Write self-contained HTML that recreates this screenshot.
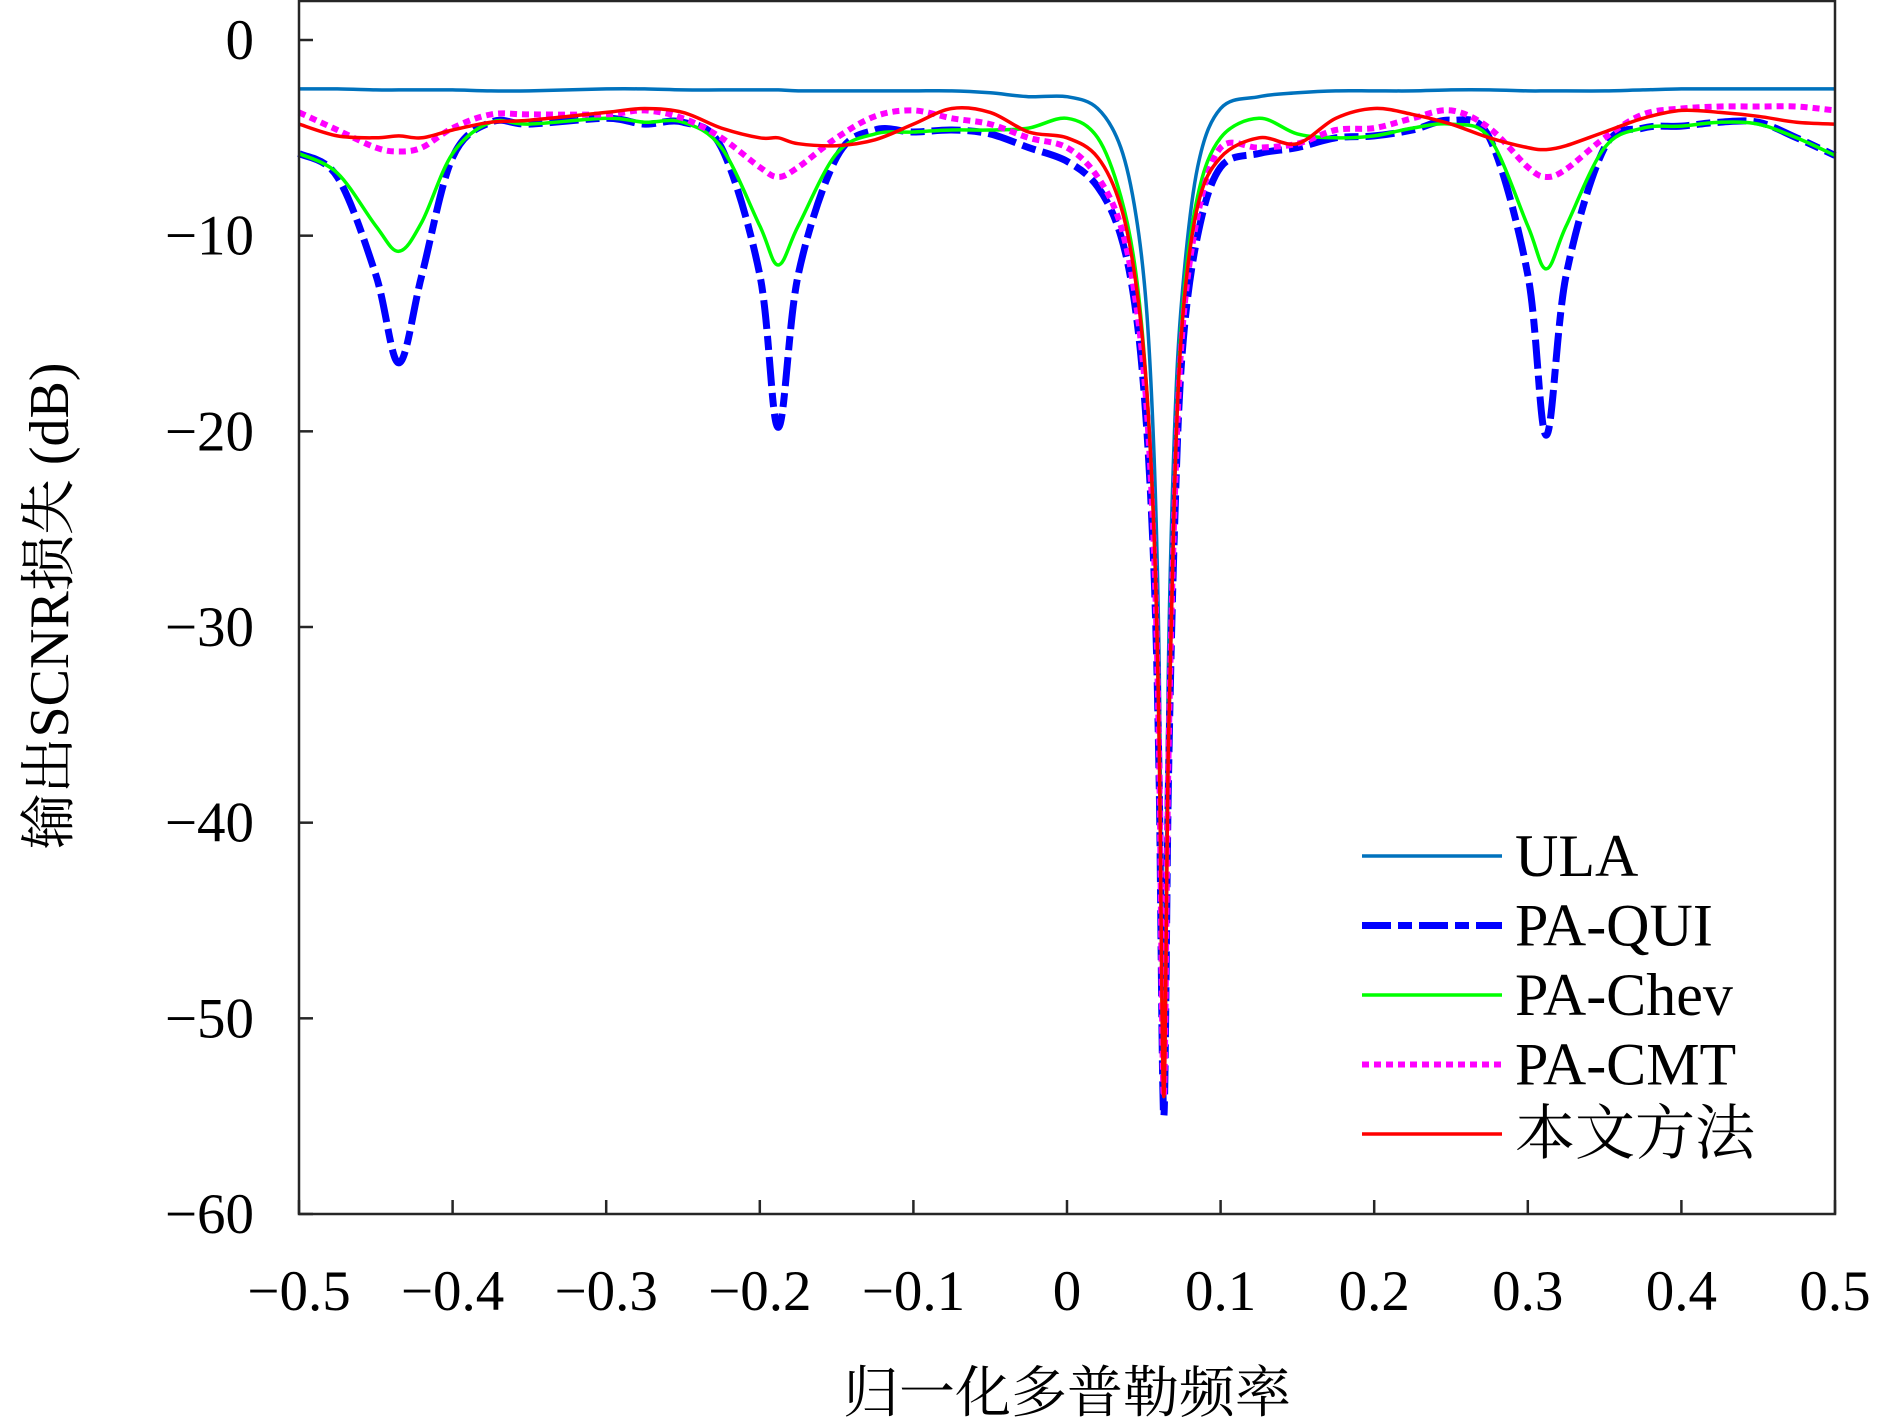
<!DOCTYPE html>
<html><head><meta charset="utf-8"><style>
html,body{margin:0;padding:0;background:#fff;}
svg{display:block;}
text{font-family:"Liberation Serif","Noto Serif CJK SC",serif;fill:#000;}
</style></head><body>
<svg id="chart" width="1890" height="1424" viewBox="0 0 1890 1424" xmlns="http://www.w3.org/2000/svg">
<g id="series"></g>
<rect x="299" y="1" width="1536" height="1213" fill="none" stroke="#262626" stroke-width="2.5"/>
<g id="ticks"></g>
<text x="1067" y="1412" font-size="56" text-anchor="middle">归一化多普勒频率</text>
<text transform="translate(68,606) rotate(-90)" font-size="56" text-anchor="middle">输出SCNR损失 (dB)</text>
<g id="legend"></g>
</svg>
<script>
const freq=[-0.5,-0.475,-0.45,-0.435,-0.42,-0.4,-0.375,-0.35,-0.3,-0.275,-0.25,-0.225,-0.2,-0.188,-0.175,-0.15,-0.125,-0.1,-0.075,-0.05,-0.025,0,0.02,0.035,0.045,0.052,0.057,0.06,0.063,0.066,0.07,0.075,0.085,0.1,0.125,0.15,0.175,0.2,0.225,0.25,0.275,0.3,0.312,0.325,0.35,0.375,0.4,0.425,0.45,0.475,0.5];
const ula=[-2.5,-2.5,-2.55,-2.55,-2.55,-2.55,-2.6,-2.6,-2.5,-2.5,-2.55,-2.55,-2.55,-2.55,-2.6,-2.6,-2.6,-2.6,-2.6,-2.7,-2.9,-2.9,-3.5,-5.5,-9,-14,-22,-32,-54,-32,-20,-13,-6.5,-3.5,-2.9,-2.7,-2.6,-2.6,-2.6,-2.55,-2.55,-2.6,-2.6,-2.6,-2.6,-2.55,-2.5,-2.5,-2.5,-2.5,-2.5];
const paQui=[-5.8,-7,-12,-16.5,-12,-6,-4.2,-4.3,-4,-4.3,-4.2,-5.5,-12,-19.8,-12,-6,-4.6,-4.7,-4.6,-4.8,-5.5,-6.2,-7.5,-10,-14,-20,-28,-38,-55,-38,-25,-16,-10,-6.5,-5.8,-5.5,-5.0,-4.9,-4.6,-4.1,-5,-12,-20.2,-12,-5.5,-4.5,-4.4,-4.2,-4.2,-5,-5.9];
const paChev=[-5.8,-6.8,-9.5,-10.8,-9.3,-5.8,-4.2,-4.3,-4,-4.2,-4.2,-5.5,-9.5,-11.5,-9.5,-5.8,-4.8,-4.7,-4.6,-4.6,-4.5,-4,-5,-8,-12,-18,-26,-36,-54,-36,-23,-14,-8,-5,-4,-4.8,-5,-4.9,-4.5,-4.3,-5,-9.5,-11.7,-9.5,-5.5,-4.5,-4.4,-4.2,-4.3,-5,-5.9];
const paCmt=[-3.7,-4.6,-5.5,-5.7,-5.5,-4.5,-3.8,-3.8,-3.8,-3.6,-4,-5,-6.5,-7,-6.5,-5,-3.9,-3.6,-4,-4.3,-5,-5.5,-7,-9.5,-13.5,-19,-27,-37,-54,-37,-24,-15,-9,-5.5,-5.5,-5.3,-4.6,-4.5,-4,-3.6,-4.5,-6.5,-7,-6.6,-5,-3.8,-3.5,-3.4,-3.4,-3.4,-3.6];
const proposed=[-4.3,-4.9,-5,-4.9,-5,-4.6,-4.2,-4.1,-3.7,-3.5,-3.7,-4.5,-5,-5,-5.3,-5.4,-5.1,-4.3,-3.5,-3.7,-4.7,-5,-6,-8.5,-12.5,-18,-26,-36,-54,-36,-23,-14.5,-8.5,-6,-5,-5.3,-4,-3.5,-3.8,-4.3,-5,-5.5,-5.6,-5.4,-4.7,-4,-3.6,-3.7,-3.9,-4.2,-4.3];
const xTicks=[-0.5,-0.4,-0.3,-0.2,-0.1,0,0.1,0.2,0.3,0.4,0.5];
const xTickLabels=["−0.5","−0.4","−0.3","−0.2","−0.1","0","0.1","0.2","0.3","0.4","0.5"];
const yTicks=[0,-10,-20,-30,-40,-50,-60];
const yTickLabels=["0","−10","−20","−30","−40","−50","−60"];
const legendNames=["ULA","PA-QUI","PA-Chev","PA-CMT","本文方法"];

const NS="http://www.w3.org/2000/svg";
const X0=299,X1=1835,Y0=40,YB=1214;
const xs=v=>X0+(v+0.5)*(X1-X0);
const ys=v=>Y0+(0-v)*(YB-Y0)/60;
const styles=[
 {c:"#0072BD",w:3.5,d:""},
 {c:"#0000FF",w:7,d:"29 7 14 7"},
 {c:"#00FF00",w:3.5,d:""},
 {c:"#FF00FF",w:6,d:"7 5"},
 {c:"#FF0000",w:3.5,d:""}];
const seriesData=[ula,paQui,paChev,paCmt,proposed];
const seriesNames=["series-ula","series-pa-qui","series-pa-chev","series-pa-cmt","series-proposed"];
function smooth(vals){
 const P=vals.map((v,k)=>[xs(freq[k]),ys(v)]);
 let d='M'+P[0][0].toFixed(1)+','+P[0][1].toFixed(1);
 for(let k=0;k<P.length-1;k++){
  const p0=P[Math.max(0,k-1)],p1=P[k],p2=P[k+1],p3=P[Math.min(P.length-1,k+2)];
  let c1=[p1[0]+(p2[0]-p0[0])/6,p1[1]+(p2[1]-p0[1])/6];
  let c2=[p2[0]-(p3[0]-p1[0])/6,p2[1]-(p3[1]-p1[1])/6];
  c1[0]=Math.min(Math.max(c1[0],p1[0]),p2[0]);c2[0]=Math.min(Math.max(c2[0],p1[0]),p2[0]);
  d+='C'+c1[0].toFixed(1)+','+c1[1].toFixed(1)+' '+c2[0].toFixed(1)+','+c2[1].toFixed(1)+' '+p2[0].toFixed(1)+','+p2[1].toFixed(1);
 }
 return d;
}
const g=document.getElementById('series');
seriesData.forEach((vals,i)=>{
 const p=document.createElementNS(NS,'path');
 p.setAttribute('d',smooth(vals));
 p.setAttribute('fill','none');p.setAttribute('stroke',styles[i].c);p.setAttribute('stroke-width',styles[i].w);
 p.setAttribute('stroke-linejoin','round');
 if(styles[i].d)p.setAttribute('stroke-dasharray',styles[i].d);
 
 
 g.appendChild(p);
});
const t=document.getElementById('ticks');
xTicks.forEach((v,i)=>{
 const l=document.createElementNS(NS,'line');
 l.setAttribute('x1',xs(v));l.setAttribute('x2',xs(v));l.setAttribute('y1',YB);l.setAttribute('y2',YB-14);
 l.setAttribute('stroke','#262626');l.setAttribute('stroke-width','2.5');
 
 
 t.appendChild(l);
 const tx=document.createElementNS(NS,'text');
 tx.setAttribute('x',xs(v));tx.setAttribute('y',1310);tx.setAttribute('font-size','57');tx.setAttribute('text-anchor','middle');
 tx.textContent=xTickLabels[i];
 
 
 t.appendChild(tx);
});
yTicks.forEach((v,i)=>{
 const l=document.createElementNS(NS,'line');
 l.setAttribute('x1',X0);l.setAttribute('x2',X0+14);l.setAttribute('y1',ys(v));l.setAttribute('y2',ys(v));
 l.setAttribute('stroke','#262626');l.setAttribute('stroke-width','2.5');
 
 
 t.appendChild(l);
 const tx=document.createElementNS(NS,'text');
 tx.setAttribute('x',254);tx.setAttribute('y',ys(v)+19);tx.setAttribute('font-size','57');tx.setAttribute('text-anchor','end');
 tx.textContent=yTickLabels[i];
 
 
 t.appendChild(tx);
});
const lg=document.getElementById('legend');
legendNames.forEach((n,i)=>{
 const y=856+i*69.5;
 const l=document.createElementNS(NS,'line');
 l.setAttribute('x1',1362);l.setAttribute('x2',1502);l.setAttribute('y1',y);l.setAttribute('y2',y);
 l.setAttribute('stroke',styles[i].c);l.setAttribute('stroke-width',styles[i].w);
 if(styles[i].d)l.setAttribute('stroke-dasharray',styles[i].d);
 
 
 lg.appendChild(l);
 const tx=document.createElementNS(NS,'text');
 tx.setAttribute('x',1515);tx.setAttribute('y',y+20);tx.setAttribute('font-size','60');
 tx.textContent=n;
 
 
 lg.appendChild(tx);
});
</script>
</body></html>
